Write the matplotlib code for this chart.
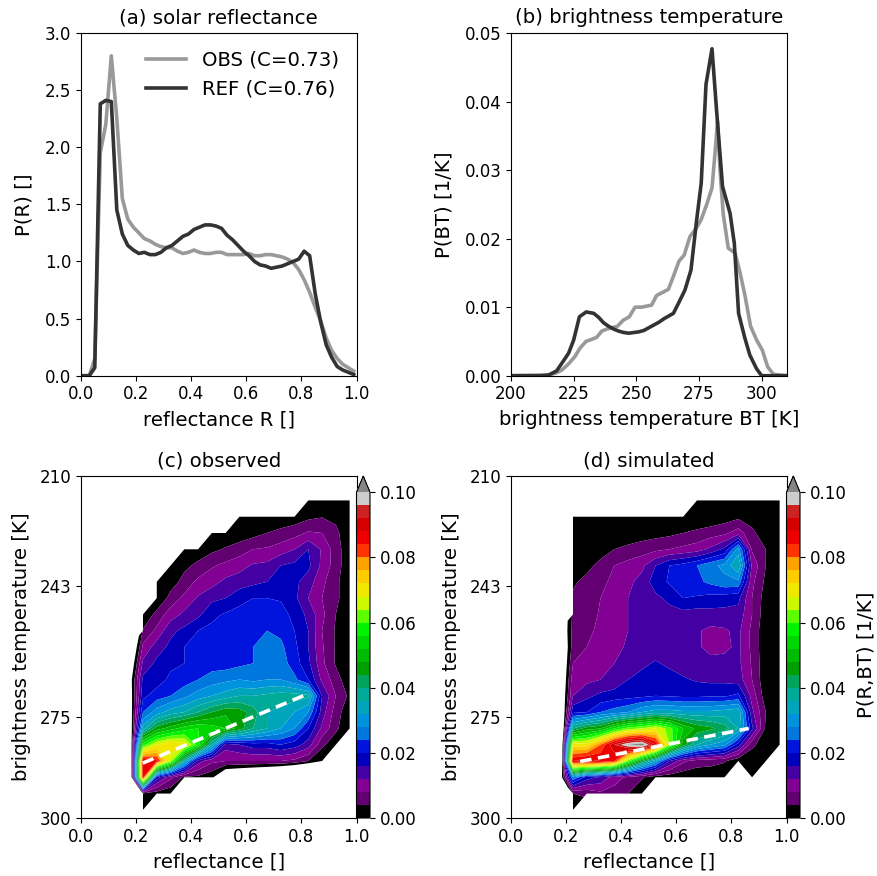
#!/usr/bin/env python
# coding: utf-8
# Reflectance / brightness temperature pdfs, observed vs simulated

import numpy as np
import matplotlib
matplotlib.use('Agg')
import matplotlib.pyplot as plt

N = np.nan

# panel (a): pdf of reflectance
refl_bins = [0.01, 0.03, 0.05, 0.07, 0.09, 0.11, 0.13, 0.15, 0.17, 0.19, 0.21, 0.23, 0.25, 0.27, 0.29, 0.31, 0.33,
             0.35, 0.37, 0.39, 0.41, 0.43, 0.45, 0.47, 0.49, 0.51, 0.53, 0.55, 0.57, 0.59, 0.61, 0.63, 0.65, 0.67,
             0.69, 0.71, 0.73, 0.75, 0.77, 0.79, 0.81, 0.83, 0.85, 0.87, 0.89, 0.91, 0.93, 0.95, 0.97, 0.99]
obs_refl = [0, 0, 0.15, 1.95, 2.2, 2.8, 2.25, 1.55, 1.37, 1.30, 1.25, 1.2, 1.18, 1.15, 1.13, 1.12, 1.12,
            1.09, 1.07, 1.08, 1.10, 1.08, 1.07, 1.07, 1.08, 1.08, 1.06, 1.06, 1.06, 1.06, 1.07, 1.05, 1.05, 1.06,
            1.06, 1.05, 1.04, 1.02, 0.99, 0.93, 0.84, 0.73, 0.60, 0.48, 0.33, 0.22, 0.15, 0.10, 0.07, 0.04]
ref_refl = [0, 0, 0.07, 2.38, 2.41, 2.40, 1.45, 1.24, 1.14, 1.1, 1.07, 1.08, 1.06, 1.06, 1.08, 1.12, 1.14,
            1.18, 1.22, 1.24, 1.28, 1.3, 1.32, 1.32, 1.31, 1.29, 1.23, 1.19, 1.14, 1.09, 1.05, 1.0, 0.97, 0.96,
            0.94, 0.95, 0.96, 0.98, 1.0, 1.02, 1.09, 1.05, 0.72, 0.47, 0.27, 0.16, 0.08, 0.05, 0.03, 0.01]

# panel (b): pdf of brightness temperature
obs_bt_x = [200, 215, 218, 220.2, 222.9, 225.5, 227.5, 229.9, 232.2, 234.2, 236.2, 238.2, 242.4, 244.8, 247.2,
            249.5, 252.1, 256.1, 258.1, 262.8, 264.8, 267, 269.1, 271.4, 273.7, 275.8, 278, 280.2, 281.4, 282.4,
            283.4, 284.7, 286.7, 289.4, 291.4, 293.3, 295.6, 298, 300.3, 302.4, 304.7, 310]
obs_bt = [0, 0.0001, 0.0004, 0.0008, 0.0017, 0.0028, 0.004, 0.005, 0.0053, 0.0056, 0.0065, 0.0068, 0.0072, 0.0081,
          0.0086, 0.01, 0.01, 0.0103, 0.0117, 0.0126, 0.0145, 0.0167, 0.0176, 0.0203, 0.0214, 0.0227, 0.0249,
          0.0274, 0.0325, 0.0371, 0.03, 0.0235, 0.0186, 0.0179, 0.015, 0.0118, 0.0072, 0.0052, 0.0037, 0.0013,
          0.0002, 0]
ref_bt_x = [200, 212, 215, 218.2, 221, 223, 225, 227.3, 230, 233, 235, 237, 239, 241, 243, 245, 247, 249, 251, 253,
            255, 257, 259, 261, 264.8, 267, 269.4, 271.8, 274, 275.9, 277.8, 280.2, 282, 284.4, 287.4, 289.1, 290.8,
            293.3, 295.3, 298, 300, 310]
ref_bt = [0, 0, 0.0001, 0.0007, 0.0022, 0.0033, 0.0052, 0.0086, 0.0093, 0.0091, 0.0085, 0.0077, 0.0072, 0.0068,
          0.0065, 0.0063, 0.0062, 0.0063, 0.0064, 0.0066, 0.007, 0.0074, 0.0078, 0.0083, 0.0091, 0.0107, 0.0125,
          0.0154, 0.0225, 0.0281, 0.0425, 0.0477, 0.0388, 0.0276, 0.0237, 0.0193, 0.0091, 0.0055, 0.003, 0.001,
          0, 0]

# panels (c), (d): joint pdf in 1e-3 1/K. rows go from warm (bottom) to cold (top),
# columns are reflectance 0.175 ... 0.975. NaN = no samples, negative = edge falls between cells
grid_refl = np.arange(0.175, 0.98, 0.05)
grid_rows = np.arange(20) + 0.5
n_rows = 21
bt_tick_pos = [0, 6.23, 14.24, 21]
bt_tick_labels = ['300', '275', '243', '210']

obs_joint = [
    [N, 1] + [N]*15,
    [N, 3, 2, 1] + [N]*13,
    [-18, 86, 18, 9, 3, 3, 1, -8, -10, -12, -14, -17, -21, -25, N, N, N],
    [-18, 88, 85, 65, 36, 14, 9, 8, 8, 8, 8, 8, 7, 4, 0, N, N],
    [-12, 58, 68, 72, 70, 58, 36, 14, 16, 18, 18, 20, 18, 14, 5, 1, N],
    [-8, 34, 46, 50, 54, 56, 54, 52, 46, 40, 36, 32, 28, 20, 11, 5, 0],
    [-6, 24, 30, 34, 36, 40, 44, 47, 46, 42, 36, 35, 32, 28, 14, 6, 1],
    [-5, 19, 22, 24, 27, 30, 32, 34, 36, 36, 37, 38, 38, 37, 16, 8, 3],
    [-4, 17, 18, 21, 22, 24, 26, 27, 28, 27, 28, 28, 25, 20, 11, 6, 1],
    [-7, 13, 17, 19, 20, 21, 22, 22, 23, 24, 24.5, 26, 22, 17, 9, 3.5, 1],
    [-11, 9, 14, 17, 20, 22, 22, 23, 23, 24, 27, 25, 21, 16, 8.5, 3.5, 1],
    [N, 4.5, 9, 15, 17, 20, 21, 22, 23, 23, 24, 23, 20, 16, 8, 3.5, 1],
    [N, 0, 5.5, 10, 13, 15, 19, 20.5, 21.5, 23, 23, 22, 18.5, 15, 9, 4, 1],
    [N, N, 0, 5.5, 9, 12.5, 15, 16, 18.5, 20, 20, 19.5, 17, 12, 8, 5, 1],
    [N, N, 0, 2, 5.5, 9, 10.5, 13, 14, 15, 16, 17, 17, 14, 9, 5, 1],
    [N, N, N, 0, 3, 5, 7.5, 9, 10.5, 12.5, 13, 16, 17, 17, 11, 6, 1],
    [N, N, N, N, 0, 1.5, 3, 4.5, 6, 8, 8.5, 10, 12, 16, 11.5, 6, 1],
    [N, N, N, N, N, N, 0, 0.5, 1.5, 2.5, 4, 5, 6.5, 8.5, 8, 5, 1],
    [N]*8 + [0, 0.5, 1, 1.5, 1.5, 3, 3.8, 3, 1],
    [N]*13 + [0, 0, 0, 0],
]
sim_joint = [
    [N, 0] + [N]*15,
    [N, 4, 5, 7, 6, 4, 1] + [N]*10,
    [-7, 28, 18, 15, 10, 7, 4.5, 1.5, 1.5, 1, 1, 1, 0, N, 0, N, N],
    [-25, 88, 90, 88, 84, 62, 44, 32, 16, 9, 6, 5.5, 4.5, 1, 1, 0, N],
    [-22, 70, 70, 80, 92, 100, 103, 88, 64, 46, 36, 32, 29, 18, 5, 1.5, 0],
    [-19, 40, 46, 48, 56, 62, 64, 68, 62, 52, 47, 45, 42, 36, 17, 3, 1],
    [-12, 19, 20, 24, 26, 28, 32, 34, 34, 33, 33, 33, 34, 35, 13, 4, 1],
    [-9, 12, 15, 17, 18, 18.5, 19, 20, 19.5, 19, 19, 19.5, 19.5, 21, 10.5, 1.6, 1],
    [-10, 10.5, 11, 12, 13, 16, 17.5, 18.5, 18, 16.5, 15.5, 15, 15, 14, 8, 1, 1],
    [-10, 8, 10, 11, 12, 14, 15, 16.5, 15, 14, 13, 13, 13.5, 13, 7.5, 1, 1],
    [-10, 6, 8, 10, 11, 12.5, 14, 13.5, 13, 13, 12.5, 11, 11, 13, 7, 1, 1],
    [-8, 5.5, 6.5, 9.5, 11, 12, 13, 13.5, 13, 13, 12.5, 11, 11.5, 13, 7, 1, 1],
    [N, 5, 6, 8.5, 10.5, 12, 13.5, 14, 14.5, 14.5, 14, 14.5, 14.5, 14.5, 8, 1.5, 1],
    [N, 4.5, 5.5, 8, 10.5, 12, 13.5, 15, 17, 20, 19.5, 18.5, 18, 17, 8, 2, 1],
    [N, 3.5, 5, 7, 9, 11, 13.5, 18, 20.5, 22, 23, 25, 27, 27, 9, 3, 1],
    [N, 1.5, 3, 5, 8, 9.5, 11, 16, 20, 21.5, 24, 27, 29, 36, 11, 4, 1],
    [N, 0.5, 1.5, 2.5, 4, 5, 6, 7, 8, 9, 10, 13, 17, 30, 7.5, 4, 1],
    [N, 0, 0.5, 0.5, 1, 1.5, 2, 2.5, 3, 4, 5, 6, 7, 10, 5, 1.5, 1],
    [N, 0, 0, 0, 0, 0, 0, 0, 0, 0, 0.5, 1, 2, 3, 2, 0.5, 0],
    [N]*10 + [0, 0, 0, 0, 0, 0, 0],
]
levels = np.arange(0, 0.1001, 0.004)
cbar_ticks = [0, 0.02, 0.04, 0.06, 0.08, 0.10]

# dashed lines: mean BT per reflectance
obs_line_x = [0.224, 0.823]
obs_line_y = [3.37, 7.62]
sim_line_x = [0.251, 0.863]
sim_line_y = [3.47, 5.5]

W, H = 877.0, 876.0
FS = 12
FSL = 14.2

plt.rcParams['font.size'] = FS
plt.rcParams['axes.titlesize'] = FSL
plt.rcParams['axes.labelsize'] = FSL
plt.rcParams['xtick.labelsize'] = FS
plt.rcParams['ytick.labelsize'] = FS


def AddAxes(left, right, top, bottom):
    return fig.add_axes([left/W, 1-bottom/H, (right-left)/W, (bottom-top)/H])


def JointPanel(left, data, line_x, line_y, title, cbar_label):
    ax = AddAxes(left, left+275.5, 476, 818)
    cmap = plt.get_cmap('nipy_spectral', 25)
    cmap.set_over('#858585')
    values = np.array(data, dtype=float)*1e-3
    # exact zeros drop out of the lowest band, nudge them in
    values[values == 0] = 1e-5
    cf = ax.contourf(grid_refl, grid_rows, values, levels=levels, cmap=cmap, extend='max', antialiased=True)
    ax.plot(line_x, line_y, color='white', lw=2.6, ls=(0, (3.2, 1.8)))
    ax.set_xlim(0, 1)
    ax.set_ylim(0, n_rows)
    ax.set_xticks([0, 0.2, 0.4, 0.6, 0.8, 1.0])
    ax.set_yticks(bt_tick_pos)
    ax.set_yticklabels(bt_tick_labels)
    ax.set_xlabel('reflectance []', labelpad=5)
    ax.set_ylabel('brightness temperature [K]', labelpad=6)
    ax.set_title(title, pad=7)
    # the arrow takes its room out of this axes
    cax = AddAxes(left+275.5, left+289, 476, 818)
    cb = fig.colorbar(cf, cax=cax, ticks=cbar_ticks, format='%.2f', extendfrac=0.05)
    if cbar_label:
        cb.set_label(cbar_label, labelpad=7)


fig = plt.figure(figsize=(W/100, H/100), dpi=100)

# (a)
ax = AddAxes(81, 356.5, 33, 375.7)
ax.plot(refl_bins, obs_refl, color='#999999', lw=2.6, label='OBS (C=0.73)')
ax.plot(refl_bins, ref_refl, color='#333333', lw=2.6, label='REF (C=0.76)')
ax.set_xlim(0, 1)
ax.set_ylim(0, 3)
ax.set_xlabel('reflectance R []', labelpad=5)
ax.set_ylabel('P(R) []', labelpad=8)
ax.set_title('(a) solar reflectance', pad=7)
ax.legend(loc='upper right', frameon=False, fontsize=FSL)

# (b)
ax = AddAxes(511, 786.7, 33, 375.7)
ax.plot(obs_bt_x, obs_bt, color='#999999', lw=2.6)
ax.plot(ref_bt_x, ref_bt, color='#333333', lw=2.6)
ax.set_xlim(200, 310)
ax.set_ylim(0, 0.05)
ax.set_xticks([200, 225, 250, 275, 300])
ax.set_xlabel('brightness temperature BT [K]', labelpad=5)
ax.set_ylabel('P(BT) [1/K]', labelpad=8)
ax.set_title('(b) brightness temperature', pad=7)

# (c), (d)
JointPanel(81, obs_joint, obs_line_x, obs_line_y, '(c) observed', None)
JointPanel(511, sim_joint, sim_line_x, sim_line_y, '(d) simulated', 'P(R,BT) [1/K]')

fig.savefig('out.png', dpi=100)
